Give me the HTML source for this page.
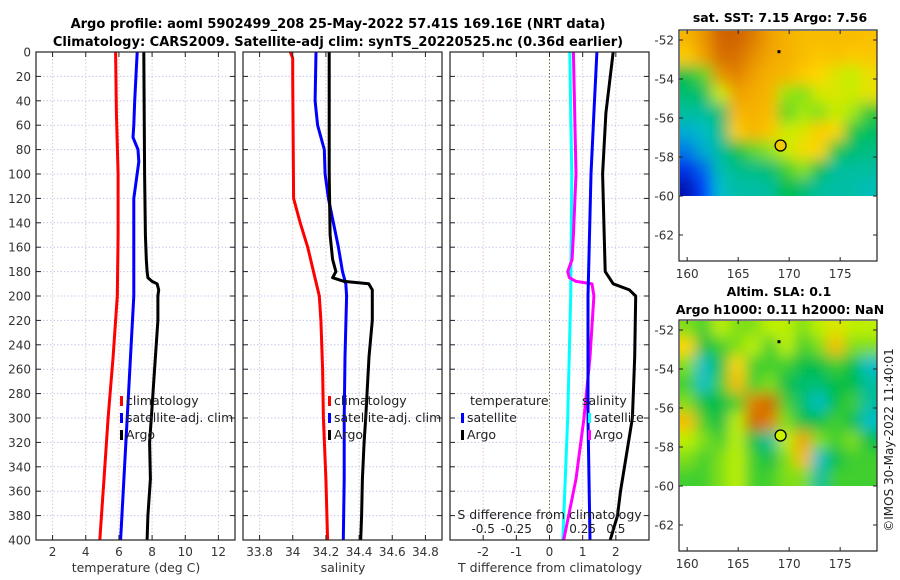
<!DOCTYPE html>
<html><head><meta charset="utf-8"><style>
body{margin:0;background:#fff;}
svg{display:block;font-family:"DejaVu Sans","Liberation Sans",sans-serif;}
</style></head><body>
<svg id="c" width="900" height="580" viewBox="0 0 900 580">
<defs>
<filter id="blur" x="-10%" y="-10%" width="120%" height="120%"><feGaussianBlur stdDeviation="7"/></filter>
<clipPath id="cp1"><rect x="36" y="52" width="199" height="488"/></clipPath>
<clipPath id="cp2"><rect x="243" y="52" width="199" height="488"/></clipPath>
<clipPath id="cp3"><rect x="450" y="52" width="199" height="488"/></clipPath>
<clipPath id="cm1"><rect x="680" y="31" width="197" height="165"/></clipPath>
<clipPath id="cm2"><rect x="680" y="321" width="197" height="165"/></clipPath>
</defs>
<text x="338" y="28" text-anchor="middle" font-size="13" font-weight="bold">Argo profile: aoml 5902499_208 25-May-2022 57.41S 169.16E (NRT data)</text>
<text x="338" y="46" text-anchor="middle" font-size="13" font-weight="bold">Climatology: CARS2009. Satellite-adj clim: synTS_20220525.nc (0.36d earlier)</text>
<text x="780" y="22" text-anchor="middle" font-size="12.5" font-weight="bold">sat. SST: 7.15 Argo: 7.56</text>
<text x="779" y="296" text-anchor="middle" font-size="12.5" font-weight="bold">Altim. SLA: 0.1</text>
<text x="780" y="314" text-anchor="middle" font-size="12.5" font-weight="bold">Argo h1000: 0.11 h2000: NaN</text>
<text transform="translate(893,440) rotate(-90)" text-anchor="middle" font-size="12" fill="#222">©IMOS 30-May-2022 11:40:01</text>
<g id="g"></g>
</svg>
<script>
// ---- profile data ----
const depthClimT=[0,50,100,150,200,250,300,350,400];
const tempClim=[5.8,5.85,5.95,5.95,5.9,5.65,5.35,5.1,4.85];
const depthSatT=[0,40,60,70,80,90,120,200,250,300,350,400];
const tempSat=[7.1,6.95,6.9,6.85,7.15,7.2,6.9,6.9,6.7,6.5,6.3,6.1];
const depthArgo=[0,100,150,170,180,185,188,190,195,200,220,250,300,320,350,380,400];
const tempArgo=[7.5,7.55,7.6,7.65,7.7,7.75,8.0,8.3,8.4,8.35,8.35,8.2,7.95,7.85,7.9,7.75,7.7];
const depthClimS=[0,5,20,120,140,160,180,200,220,260,300,350,400];
const salClim=[33.985,34.0,34.0,34.005,34.045,34.09,34.125,34.16,34.17,34.18,34.185,34.2,34.21];
const depthSatS=[0,40,60,80,100,120,140,160,180,190,200,250,300,350,400];
const salSat=[34.14,34.135,34.15,34.19,34.195,34.215,34.245,34.275,34.3,34.32,34.325,34.315,34.31,34.31,34.305];
const salArgo=[34.22,34.22,34.225,34.24,34.26,34.24,34.31,34.458,34.48,34.48,34.48,34.46,34.44,34.43,34.42,34.415,34.41];
const depthDS=[0,50,100,150,170,180,185,188,190,200,250,300,350,400];
const sDiffArgo=[0.18,0.19,0.2,0.18,0.17,0.137,0.15,0.2,0.32,0.335,0.305,0.26,0.2,0.107];
const depthDSat=[0,50,100,200,300,400];
const sDiffSat=[0.153,0.16,0.168,0.16,0.137,0.1];
const tDiffSat=[1.43,1.34,1.25,1.16,1.16,1.22];
const depthDT=[0,50,100,150,180,190,195,200,250,300,340,360,380,400];
const tDiffArgo=[1.92,1.7,1.6,1.65,1.68,1.92,2.41,2.6,2.57,2.5,2.26,2.14,2.05,1.83];
const yTicks=[0,20,40,60,80,100,120,140,160,180,200,220,240,260,280,300,320,340,360,380,400];
const tTicks=[2,4,6,8,10,12];
const sTicks=[33.8,34,34.2,34.4,34.6,34.8];
const tdTicks=[-2,-1,0,1,2];
const sdTicks=[-0.5,-0.25,0,0.25,0.5];
// ---- map data (rows lat -52..-60, cols lon 160..178) ----
const sstGrid=[
[0.76,0.82,0.9,0.9,0.86,0.8,0.77,0.75,0.75,0.75,0.75,0.74],
[0.72,0.8,0.88,0.88,0.83,0.79,0.77,0.75,0.73,0.74,0.72,0.73],
[0.45,0.52,0.82,0.85,0.8,0.77,0.76,0.72,0.7,0.64,0.6,0.67],
[0.4,0.42,0.62,0.8,0.78,0.76,0.57,0.55,0.63,0.64,0.62,0.66],
[0.35,0.35,0.4,0.76,0.77,0.75,0.52,0.58,0.55,0.62,0.58,0.48],
[0.28,0.3,0.38,0.72,0.76,0.73,0.62,0.64,0.72,0.7,0.47,0.42],
[0.22,0.28,0.35,0.45,0.52,0.56,0.62,0.68,0.7,0.47,0.4,0.38],
[0.12,0.2,0.33,0.37,0.38,0.4,0.5,0.56,0.45,0.35,0.35,0.35],
[0.05,0.15,0.3,0.34,0.34,0.35,0.45,0.4,0.35,0.34,0.34,0.32]];
const slaGrid=[
[0.55,0.5,0.6,0.55,0.55,0.6,0.6,0.55,0.6,0.65,0.6,0.6],
[0.7,0.45,0.5,0.55,0.6,0.5,0.6,0.5,0.55,0.75,0.55,0.55],
[0.55,0.3,0.45,0.7,0.5,0.5,0.5,0.45,0.45,0.5,0.45,0.3],
[0.5,0.3,0.5,0.75,0.5,0.55,0.45,0.4,0.4,0.45,0.45,0.35],
[0.55,0.45,0.45,0.5,0.85,0.9,0.5,0.4,0.3,0.45,0.5,0.35],
[0.75,0.5,0.45,0.6,0.9,0.85,0.55,0.45,0.45,0.5,0.45,0.3],
[0.6,0.55,0.5,0.6,0.45,0.35,0.6,0.8,0.55,0.5,0.55,0.45],
[0.55,0.5,0.55,0.6,0.5,0.45,0.55,0.75,0.3,0.45,0.5,0.5],
[0.5,0.5,0.55,0.6,0.5,0.5,0.55,0.55,0.35,0.5,0.5,0.5]];
const latTicks=[-52,-54,-56,-58,-60,-62];
const lonTicks=[160,165,170,175];
const argoPos=[169.16,-57.41];

const NS='http://www.w3.org/2000/svg';
const G=document.getElementById('g');
function mk(tag,at,par){const e=document.createElementNS(NS,tag);for(const k in at)e.setAttribute(k,at[k]);(par||G).appendChild(e);return e;}
const Y=d=>52+d*1.22;
const panels=[{x0:36,min:1,max:13,cp:'cp1'},{x0:243,min:33.7,max:34.9,cp:'cp2'},{x0:450,min:-3,max:3,cp:'cp3'}];
function X(p,v){return p.x0+(v-p.min)/(p.max-p.min)*199;}
const sP={x0:450,min:-0.75,max:0.75};

function grid(p,ticks,name){
  const g=mk('g',{});
  
  
  yTicks.forEach(t=>{mk('line',{x1:p.x0,x2:p.x0+199,y1:Y(t),y2:Y(t),stroke:'#c4c8ec','stroke-width':1,'stroke-dasharray':'1.5,2'},g);});
  ticks.forEach(t=>{mk('line',{x1:X(p,t),x2:X(p,t),y1:52,y2:540,stroke:'#e4c8c0','stroke-width':1,'stroke-dasharray':'1.5,2'},g);});
}
function frame(p,ticks,labels,name,xlabel){
  const g=mk('g',{});
  
  
  mk('rect',{x:p.x0,y:52,width:199,height:488,fill:'none',stroke:'#222','stroke-width':1.2},g);
  yTicks.forEach(t=>{mk('line',{x1:p.x0,x2:p.x0+5,y1:Y(t),y2:Y(t),stroke:'#222'},g);mk('line',{x1:p.x0+194,x2:p.x0+199,y1:Y(t),y2:Y(t),stroke:'#222'},g);});
  ticks.forEach((t,i)=>{const x=X(p,t);mk('line',{x1:x,x2:x,y1:540,y2:535,stroke:'#222'},g);mk('line',{x1:x,x2:x,y1:52,y2:57,stroke:'#222'},g);
    const tx=mk('text',{x:x,y:556,'text-anchor':'middle','font-size':12,fill:'#333'},g);tx.textContent=labels[i];});
  const xl=mk('text',{x:p.x0+100,y:572,'text-anchor':'middle','font-size':12.5,fill:'#333'},g);xl.textContent=xlabel;
  
}
function line(p,xs,ds,color,name){
  const pts=xs.map((v,i)=>X(p,v).toFixed(1)+','+Y(ds[i]).toFixed(1)).join(' ');
  const e=mk('polyline',{points:pts,fill:'none',stroke:color,'stroke-width':3,'stroke-linejoin':'round','clip-path':'url(#'+(p.cp||'cp3')+')'});
  
  
}
function legendEntry(x,y,color,label,name,cp){
  const g=mk('g',{'clip-path':'url(#'+cp+')'});
  
  
  if(color)mk('rect',{x:x,y:y-9,width:3,height:10,fill:color},g);
  const t=mk('text',{x:x+6,y:y,'font-size':12.5,fill:'#222'},g);t.textContent=label;
}
const tdP=panels[2];
grid(panels[0],tTicks,'temp-panel');grid(panels[1],sTicks,'sal-panel');grid(tdP,tdTicks,'diff-panel');
const z=mk('line',{x1:X(tdP,0),x2:X(tdP,0),y1:52,y2:540,stroke:'#6b6b30','stroke-width':1,'stroke-dasharray':'1.5,2'});


line(panels[0],tempClim,depthClimT,'#f00','temp-climatology-line');
line(panels[0],tempSat,depthSatT,'#00f','temp-satellite-line');
line(panels[0],tempArgo,depthArgo,'#000','temp-argo-line');
line(panels[1],salClim,depthClimS,'#f00','sal-climatology-line');
line(panels[1],salSat,depthSatS,'#00f','sal-satellite-line');
line(panels[1],salArgo,depthArgo,'#000','sal-argo-line');
line(sP,sDiffSat,depthDSat,'#0ff','sdiff-satellite-line');
line(sP,sDiffArgo,depthDS,'#f0f','sdiff-argo-line');
line(tdP,tDiffSat,depthDSat,'#00f','tdiff-satellite-line');
line(tdP,tDiffArgo,depthDT,'#000','tdiff-argo-line');
frame(panels[0],tTicks,tTicks.map(String),'temp-panel','temperature (deg C)');
frame(panels[1],sTicks,sTicks.map(String),'sal-panel','salinity');
frame(tdP,tdTicks,tdTicks.map(String),'diff-panel','T difference from climatology');
yTicks.forEach(t=>{const e=mk('text',{x:31,y:Y(t)+4.5,'text-anchor':'end','font-size':12,fill:'#333'});e.textContent=t;
  
  });
const sl=mk('text',{x:X(tdP,0),y:519,'text-anchor':'middle','font-size':12.5,fill:'#222','clip-path':'url(#cp3)'});sl.textContent='S difference from climatology';


sdTicks.forEach(t=>{const e=mk('text',{x:X(sP,t),y:533,'text-anchor':'middle','font-size':12,fill:'#222'});e.textContent=t;
  
  });
legendEntry(120,405,'#f00','climatology','legend-climatology','cp1');
legendEntry(120,422,'#00f','satellite-adj. clim','legend-satellite','cp1');
legendEntry(120,439,'#000','Argo','legend-argo','cp1');
legendEntry(328,405,'#f00','climatology','legend-sal-climatology','cp2');
legendEntry(328,422,'#00f','satellite-adj. clim','legend-sal-satellite','cp2');
legendEntry(328,439,'#000','Argo','legend-sal-argo','cp2');
legendEntry(464,405,null,'temperature','legend-temp-header','cp3');
legendEntry(461,422,'#00f','satellite','legend-tdiff-satellite','cp3');
legendEntry(461,439,'#000','Argo','legend-tdiff-argo','cp3');
legendEntry(576,405,null,'salinity','legend-sal-header','cp3');
legendEntry(588,422,'#0ff','satellite','legend-sdiff-satellite','cp3');
legendEntry(588,439,'#f0f','Argo','legend-sdiff-argo','cp3');
const stops=[[0,[0,0,140]],[0.15,[0,60,255]],[0.3,[0,190,200]],[0.45,[0,190,70]],[0.6,[190,240,0]],[0.7,[255,215,0]],[0.8,[240,160,0]],[0.9,[208,100,0]],[1,[160,50,0]]];
function cmap(v){for(let i=1;i<stops.length;i++){if(v<=stops[i][0]){const a=stops[i-1],b=stops[i],f=(v-a[0])/(b[0]-a[0]);
  return 'rgb('+a[1].map((c,k)=>Math.round(c+(b[1][k]-c)*f)).join(',')+')';}}return 'rgb(160,50,0)';}
function drawMap(top,grid,cp,name,markerFill){
  const LX=lon=>679+(lon-159.2)*10.2;
  const LY=lat=>top+10+(-52-lat)*19.5;
  const g=mk('g',{'clip-path':'url(#'+cp+')'});
  
  
  const inner=mk('g',{filter:'url(#blur)'},g);
  const nr=grid.length,nc=grid[0].length;
  const x0=LX(159.2),x1=LX(178.6),y0=LY(-51.4),y1=LY(-60.05);
  const cw=(x1-x0)/nc,ch=(y1-y0)/nr;
  grid.forEach((row,r)=>row.forEach((v,c)=>{mk('rect',{x:x0+c*cw-(c==0?15:0),y:y0+r*ch-(r==0?15:0),width:cw+(c==0?15:0)+(c==nc-1?15:0)+0.5,height:ch+(r==0?15:0)+(r==nr-1?15:0)+0.5,fill:cmap(v)},inner);}));
  mk('rect',{x:680,y:LY(-60.05),width:197,height:80,fill:'#fff'},g);
  const f=mk('g',{});
  
  
  mk('rect',{x:679,y:top,width:198,height:231,fill:'none',stroke:'#222','stroke-width':1.2},f);
  latTicks.forEach(t=>{const y=LY(t);mk('line',{x1:679,x2:683,y1:y,y2:y,stroke:'#222'},f);mk('line',{x1:873,x2:877,y1:y,y2:y,stroke:'#222'},f);
    const e=mk('text',{x:674,y:y+4.5,'text-anchor':'end','font-size':12,fill:'#333'},f);e.textContent=t;});
  lonTicks.forEach(t=>{const x=LX(t);mk('line',{x1:x,x2:x,y1:top+231,y2:top+227,stroke:'#222'},f);mk('line',{x1:x,x2:x,y1:top,y2:top+4,stroke:'#222'},f);
    const e=mk('text',{x:x,y:top+248,'text-anchor':'middle','font-size':12,fill:'#333'},f);e.textContent=t;});
  const m=mk('circle',{cx:LX(argoPos[0]),cy:LY(argoPos[1]),r:5.5,fill:markerFill,stroke:'#000','stroke-width':1.3});
  
  
  mk('rect',{x:LX(169)-1.5,y:LY(-52.6)-1.5,width:3,height:3,fill:'#000'});
}
drawMap(30,sstGrid,'cm1','sst-map','#f0c800');
drawMap(320,slaGrid,'cm2','sla-map','#c8f000');
</script>
</body></html>
